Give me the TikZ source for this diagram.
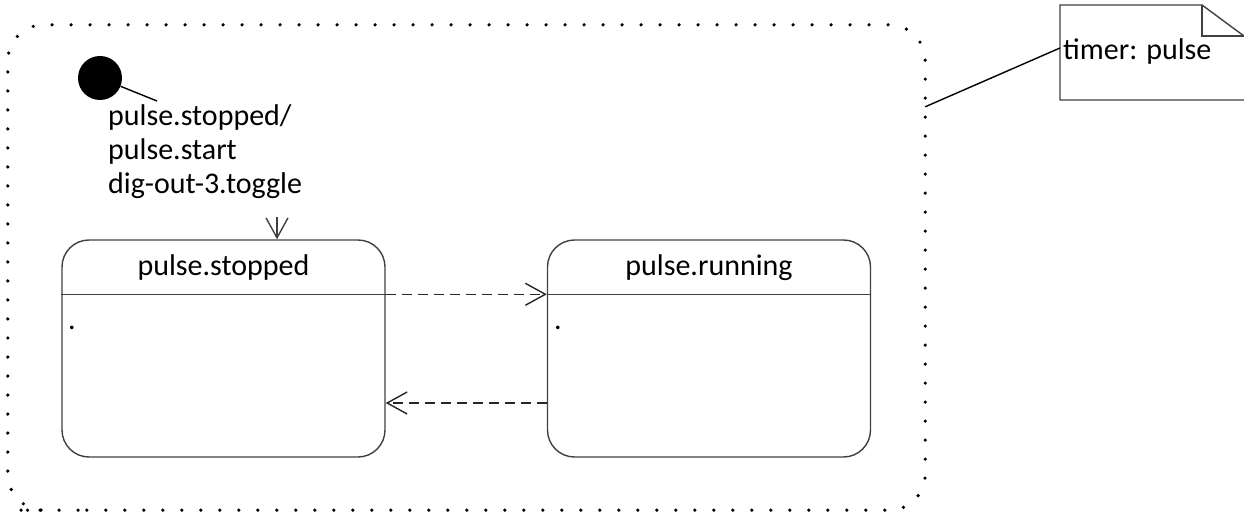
\documentclass[tikz,border=0pt]{standalone}
\usepackage{fontspec}
\setmainfont{Carlito}
\usetikzlibrary{arrows.meta,calc}
\begin{document}
\begin{tikzpicture}[x=1pt,y=-1pt,
  txt/.style={font=\fontsize{30}{34}\selectfont, inner sep=0pt, text=black},
  edge/.style={draw=black!75, line width=1.4pt},
  state/.style={edge, rounded corners=27pt, minimum width=323pt, minimum height=217pt, inner sep=0pt},
  region/.style={minimum width=917pt, minimum height=485pt, inner sep=0pt},
  dots/.style={draw=black, line width=3.6pt, line cap=round, dash pattern=on 0pt off 19pt,
               rounded corners=36pt},
  barb/.style={-{Straight Barb[length=20pt,width=22pt,line width=1.4pt]}},
  flow/.style={edge, draw=black!85, dash pattern=on 10pt off 6pt, barb}]
\useasboundingbox (0,0) rectangle (1244,513);

% composite region, outlined with dots
\node[region] (comp) at (466.5,267.5) {};
\draw[dots] ($(comp.south west)+(43,0)$) -- (comp.south east) -- (comp.north east)
  -- (comp.north west) -- (comp.south west) -- cycle;

% initial pseudo state and its transition label
\node[circle, fill=black, minimum size=44pt, inner sep=0pt] (init) at (100,78) {};
\node[txt, align=left, anchor=north west] (initlbl) at (108,104)
  {pulse.stopped/\\pulse.start\\dig-out-3.toggle};
\coordinate (hook) at (157,101);
\draw[edge, draw=black] (init) -- (hook);

% states
\node[state] (stopped) at (223.5,348.5) {};
\node[state] (running) at (709,348.5) {};
\node[txt, anchor=base] (stoppedname) at (223.5,275) {pulse.stopped};
\node[txt, anchor=base] (runningname) at (709,275) {pulse.running};
\draw[edge] ($(stopped.north west)+(0,55)$) coordinate (sdl) -- (sdl -| stopped.east) coordinate (sdr);
\draw[edge] ($(running.north west)+(0,55)$) coordinate (rdl) -- (rdl -| running.east) coordinate (rdr);
\node[txt, anchor=base west] (stoppedbody) at (68,329) {.};
\node[txt, anchor=base west] (runningbody) at (554,329) {.};

% transitions
\coordinate (foot) at (277,217);
\draw[edge, barb] (foot) -- (foot |- stopped.north);
\draw[flow] (sdr) -- (rdl);
\coordinate (back) at ($(running.west)+(0,54.5)$);
\draw[flow] (back) -- (back -| stopped.east);

% note
\draw[edge, fill=white] (1060,5) -- (1202,5) -- (1246,37.5) -- (1246,100) -- (1060,100) -- cycle;
\draw[edge] (1202,5) -- (1202,36) -- (1246,36);
\node[txt, anchor=base west] (note) at (1063,60) {timer: pulse};
\coordinate (notewest) at (1060,48);
\draw[edge, draw=black] ($(comp.north east)+(0,82)$) -- (notewest);
\end{tikzpicture}
\end{document}
